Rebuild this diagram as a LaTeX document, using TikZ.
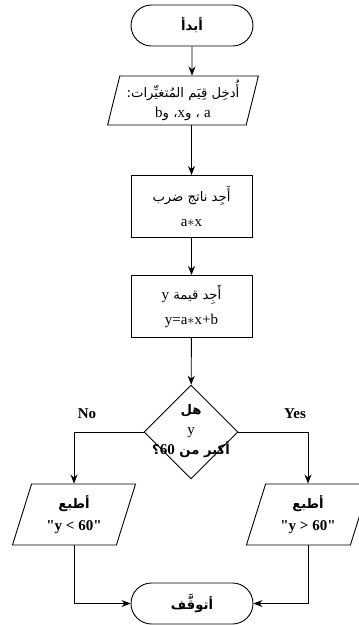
\documentclass[tikz,border=0pt]{standalone}
\usepackage{fontspec}
\setmainfont{Liberation Serif}
\newfontfamily\arabicfont[Script=Arabic,Scale=0.88]{DejaVu Sans}
\TeXXeTstate=1
\usetikzlibrary{arrows.meta,shapes.geometric,shapes.misc}
\newcommand{\artxt}[1]{{\arabicfont\beginR #1\endR}}

\begin{document}
\begin{tikzpicture}[
    x=1pt, y=-1pt,
    >={Stealth[length=9pt,width=7pt]},
    every node/.style={font=\fontsize{15}{25}\selectfont},
    terminal/.style={draw,rounded rectangle,line width=0.9pt,minimum width=122pt,minimum height=41pt,inner sep=0pt},
    process/.style={draw,rectangle,line width=0.9pt,minimum width=121pt,minimum height=62pt,align=center,inner sep=0pt},
    io/.style={draw,trapezium,trapezium stretches=true,line width=0.9pt,align=center,inner sep=0pt},
    decision/.style={draw,diamond,line width=0.9pt,minimum width=94pt,minimum height=94pt,inner sep=0pt},
    flow/.style={->,line width=0.9pt},
    branch/.style={font=\bfseries\fontsize{15}{17}\selectfont}
]
\useasboundingbox (0,0) rectangle (359,625);

% Início
\node[terminal] (start) at (192,25.5) {\artxt{\bfseries أبدأ}};

% Entrada das variáveis
\node[io,trapezium left angle=75,trapezium right angle=105,minimum width=151pt,minimum height=49pt,
      font=\fontsize{15}{20}\selectfont] (in) at (183,100.5)
    {\artxt{أُدخِل قِيَم المُتغيِّرات:}\\\artxt{{\rmfamily a} ، و{\rmfamily x}، و{\rmfamily b}}};

% Processos
\node[process] (mul) at (191.5,206.5) {\artxt{أَجِد ناتج ضرب}\\a$\ast$x};
\node[process] (sum) at (191.5,306.5) {\artxt{أَجِد قيمة {\rmfamily y}}\\y=a$\ast$x+b};

% Decisão
\node[decision] (q) at (191,432) {};
\node[align=center,font=\fontsize{15}{20}\selectfont] (qtext) at (191,431)
    {\artxt{\bfseries هل}\\y\\\artxt{\bfseries أكبر من {\rmfamily 60}؟}};

% Saídas
\node[io,trapezium left angle=72,trapezium right angle=108,minimum width=124pt,minimum height=61pt,
      font=\fontsize{15}{22}\selectfont] (prL) at (74,514.5)
    {\artxt{\bfseries أطبع}\\\textbf{\textquotedbl y < 60\textquotedbl}};
\node[io,trapezium left angle=72,trapezium right angle=108,minimum width=124pt,minimum height=61pt,
      font=\fontsize{15}{22}\selectfont] (prR) at (308,514.5)
    {\artxt{\bfseries أطبع}\\\textbf{\textquotedbl y > 60\textquotedbl}};

% Fim
\node[terminal] (stop) at (192,603.5) {\artxt{\bfseries أتوقَّف}};

% Rótulos dos ramos
\node[branch] (no) at (87,414) {No};
\node[branch] (yes) at (295,414) {Yes};

% Conexões
\draw[flow] (start) -- (start |- in.north);
\draw[flow] (mul |- in.south) -- (mul);
\draw[flow] (mul) -- (sum);
\draw[flow] (sum) -- (q);
\draw[flow] (q.west) -| (prL);
\draw[flow] (q.east) -| (prR);
\draw[flow] (prL) |- (stop);
\draw[flow] (prR) |- (stop);

\end{tikzpicture}
\end{document}
